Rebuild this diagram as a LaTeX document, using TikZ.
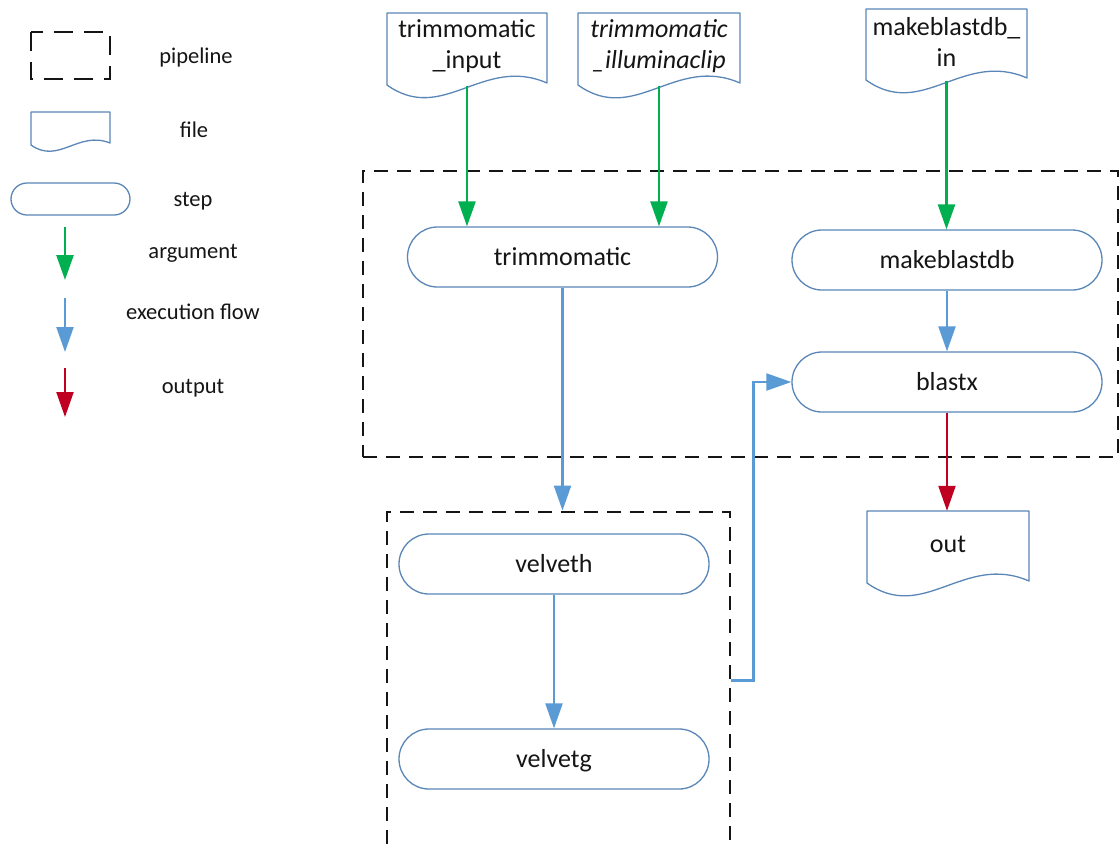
\documentclass[tikz,border=0pt]{standalone}
\usepackage{fontspec}
\setmainfont{Carlito}
\usetikzlibrary{arrows.meta,calc}
\definecolor{argcol}{HTML}{00B050}
\definecolor{flowcol}{HTML}{5B9BD5}
\definecolor{outcol}{HTML}{C00020}
\definecolor{shapecol}{HTML}{5A86B8}
\definecolor{inkcol}{HTML}{151515}
\tikzset{
  pipebox/.style={draw=inkcol, line width=2.9pt, dash pattern=on 14pt off 9pt, inner sep=0pt},
  stepbox/.style={draw=shapecol, line width=1.3pt, fill=white, rounded corners=30pt,
    minimum width=310pt, minimum height=60pt, inner sep=0pt, text=inkcol,
    font=\fontsize{26}{31}\selectfont, text height=19pt, text depth=3pt},
  fileline/.style={draw=shapecol, line width=1.3pt, fill=white, line join=round},
  filetext/.style={inner sep=0pt, align=center, text=inkcol, font=\fontsize{26}{31}\selectfont},
  legtext/.style={font=\fontsize{22.5}{26}\selectfont, text=inkcol, anchor=base},
  tip/.style={-{Triangle[width=17pt,length=25pt]}},
  argarrow/.style={draw=argcol, line width=2.5pt, tip},
  flowarrow/.style={draw=flowcol, line width=2.2pt, tip},
  outarrow/.style={draw=outcol, line width=2.2pt, tip},
}
% document shape: name, left x, right x, top y, bottom y of the sides, text
\newcommand\docshape[6]{%
  \pgfmathsetmacro\docW{#3-#2}%
  \pgfmathsetmacro\docAx{#2+0.35*\docW}%
  \pgfmathsetmacro\docAy{#5+0.25*\docW}%
  \pgfmathsetmacro\docBx{#2+0.6*\docW}%
  \pgfmathsetmacro\docBy{#5-0.1875*\docW}%
  \pgfmathsetmacro\docH{#5-#4-6}%
  \draw[fileline] (#2,#5) -- (#2,#4) -- (#3,#4) -- (#3,#5-2)
    .. controls (\docBx,\docBy) and (\docAx,\docAy) .. (#2,#5) -- cycle;
  \node[filetext, minimum width=\docW pt, minimum height=\docH pt] (#1)
    at ({(#2+#3)/2},{(#4+#5)/2-3}) {#6};
}
\begin{document}
\begin{tikzpicture}[x=1pt,y=-1pt]
  \clip (0,0) rectangle (1120,847);
  \fill[white] (0,0) rectangle (1120,847);

  % legend
  \draw[pipebox, dash pattern=on 19pt off 11pt] (31,32) rectangle (110,79);
  \docshape{legfile}{31}{110}{112}{145}{}
  \node[stepbox, minimum width=119pt, minimum height=32pt, rounded corners=16pt] (legstep) at (70.5,199) {};
  \coordinate (lga) at (65,227);
  \coordinate (lgb) at (65,280);
  \coordinate (lba) at (65,298);
  \coordinate (lbb) at (65,352);
  \coordinate (lra) at (65,368);
  \coordinate (lrb) at (65,417);
  \draw[argarrow] (lga) -- (lgb);
  \draw[flowarrow] (lba) -- (lbb);
  \draw[outarrow] (lra) -- (lrb);
  \node[legtext] (lpipe) at (196,63) {pipeline};
  \node[legtext] (lfile) at (194,137) {file};
  \node[legtext] (lstep) at (193,206) {step};
  \node[legtext] (larg) at (193,258) {argument};
  \node[legtext] (lflow) at (193,319) {execution flow};
  \node[legtext] (lout) at (193,393) {output};

  % pipelines
  \node[pipebox, minimum width=755pt, minimum height=286pt] (pipeA) at (740.5,314) {};
  \node[pipebox, minimum width=343pt, minimum height=353pt] (pipeB) at (558.5,688.5) {};

  % steps
  \node[stepbox] (trim) at (562.5,257) {trimmomatic};
  \node[stepbox] (mbdb) at (947,260) {makeblastdb};
  \node[stepbox] (blastx) at (947,382) {blastx};
  \node[stepbox] (velveth) at (554,564) {velveth};
  \node[stepbox] (velvetg) at (554,759) {velvetg};

  % files
  \docshape{tin}{387}{547}{13}{85}{trimmomatic\\\_input}
  \docshape{till}{578}{740}{13}{85}{\textit{trimmomatic}\\\textit{\_illuminaclip}}
  \docshape{mbin}{866}{1027}{9}{80}{makeblastdb\_\\in}
  \docshape{outf}{867}{1029}{511}{583}{out}

  % arguments
  \draw[argarrow] ([yshift=-7pt]tin.south) -- (tin.south |- trim.north);
  \draw[argarrow] ([yshift=-7pt]till.south) -- (till.south |- trim.north);
  \draw[argarrow] ([yshift=-7pt]mbin.south) -- (mbin.south |- mbdb.north);

  % execution flow
  \draw[flowarrow] (trim.south) -- (trim.south |- pipeB.north);
  \draw[flowarrow] (velveth.south) -- (velvetg.north);
  \draw[flowarrow] ([yshift=8pt]pipeB.east) -- ++(22,0) |- (blastx.west);
  \draw[flowarrow] (mbdb.south) -- (blastx.north);

  % output
  \draw[outarrow] (blastx.south) -- (blastx.south |- outf.north);
\end{tikzpicture}
\end{document}
